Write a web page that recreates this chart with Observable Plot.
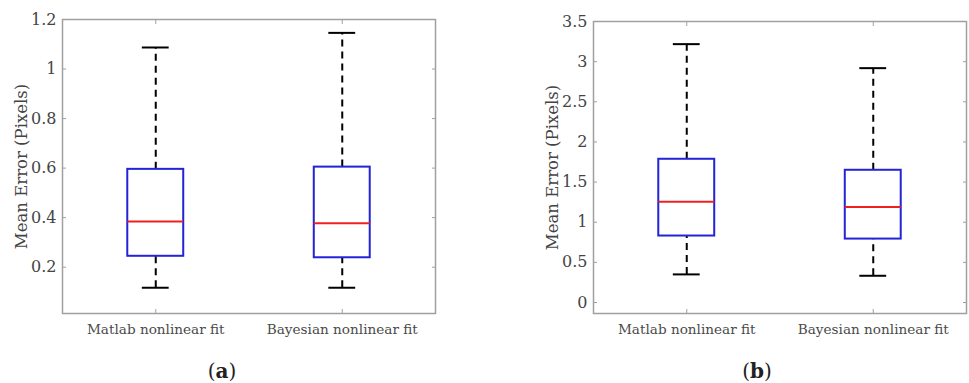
<!DOCTYPE html>
<html>
<head>
<meta charset="utf-8">
<script src="https://cdn.jsdelivr.net/npm/d3@7"></script>
<script src="https://cdn.jsdelivr.net/npm/@observablehq/plot@0.6"></script>
<style>
  html, body { margin: 0; padding: 0; background: #fff; }
  #wrap { position: relative; width: 969px; height: 383px; overflow: hidden; }
  .panel { position: absolute; top: 0; }
  .cap { position: absolute; font-family: "DejaVu Serif", serif; font-size: 20px; color: #222; transform: translate(-50%, -50%); }
  .cap b { font-weight: bold; }
</style>
</head>
<body>
<div id="wrap">
  <div id="pa" class="panel" style="left:0px"></div>
  <div id="pb" class="panel" style="left:490px"></div>
  <div class="cap" style="left:222px; top:371px">(<b>a</b>)</div>
  <div class="cap" style="left:757px; top:371px">(<b>b</b>)</div>
</div>
<script>
// ---- data ----
const categories = ["Matlab nonlinear fit", "Bayesian nonlinear fit"];
const yLabel = "Mean Error (Pixels)";

// panel (a)
const aLower  = [0.117, 0.117];
const aQ1     = [0.244, 0.238];
const aMedian = [0.384, 0.377];
const aQ3     = [0.595, 0.604];
const aUpper  = [1.087, 1.146];
const aTicks  = [0.2, 0.4, 0.6, 0.8, 1.0, 1.2];

// panel (b)
const bLower  = [0.350, 0.333];
const bQ1     = [0.828, 0.790];
const bMedian = [1.256, 1.189];
const bQ3     = [1.784, 1.647];
const bUpper  = [3.218, 2.919];
const bTicks  = [0, 0.5, 1.0, 1.5, 2.0, 2.5, 3.0, 3.5];

const FONT = "DejaVu Serif";
const BOXHALF = 0.15, CAPHALF = 0.072;

function boxChart({lower, q1, median, q3, upper, ticks, yDomain, width, marginLeft, marginRight, marginTop, yLabelDx}) {
  const rows = categories.map((c, i) => ({
    cat: c, pos: i + 1, lower: lower[i], q1: q1[i], median: median[i], q3: q3[i], upper: upper[i]
  }));
  const catPos = rows.map(r => r.pos);
  return Plot.plot({
    width, height: 345,
    marginLeft, marginRight, marginTop, marginBottom: 32,
    style: { fontFamily: FONT, fontSize: "14px", color: "#444", background: "white", overflow: "visible" },
    x: { type: "linear", domain: [0.5, 2.5], axis: null },
    y: { domain: yDomain, axis: null },
    marks: [
      Plot.frame({ stroke: "#a0a0a0", strokeWidth: 1.5 }),
      // inward ticks
      Plot.axisY({ anchor: "left", ticks, tickSize: -4, tickFormat: () => "", stroke: "#a0a0a0", label: null }),
      Plot.axisY({ anchor: "right", ticks, tickSize: -4, tickFormat: () => "", stroke: "#a0a0a0", label: null }),
      Plot.axisX({ anchor: "top", ticks: catPos, tickSize: -4, tickFormat: () => "", stroke: "#a0a0a0", label: null }),
      Plot.axisX({ anchor: "bottom", ticks: catPos, tickSize: -4, tickFormat: () => "", stroke: "#a0a0a0", label: null }),
      // tick labels
      Plot.axisY({ anchor: "left", ticks, tickSize: 0, tickPadding: 6, tickFormat: d3.format("~g"), label: null, fill: "#444", fontSize: 16 }),
      Plot.axisX({ anchor: "bottom", ticks: catPos, tickSize: 0, tickPadding: 11, tickFormat: p => categories[p - 1], label: null, fill: "#4a4a4a", fontSize: 13.6 }),
      // y label
      Plot.text([yLabel], { frameAnchor: "left", text: d => d, rotate: -90, textAnchor: "middle", dx: yLabelDx, fontSize: 16.5, fill: "#444" }),
      // whiskers
      Plot.ruleX(rows, { x: "pos", y1: "q3", y2: "upper", stroke: "black", strokeWidth: 2, strokeDasharray: "7,5" }),
      Plot.ruleX(rows, { x: "pos", y1: "lower", y2: "q1", stroke: "black", strokeWidth: 2, strokeDasharray: "7,5" }),
      Plot.ruleY(rows, { y: "upper", x1: d => d.pos - CAPHALF, x2: d => d.pos + CAPHALF, stroke: "black", strokeWidth: 2 }),
      Plot.ruleY(rows, { y: "lower", x1: d => d.pos - CAPHALF, x2: d => d.pos + CAPHALF, stroke: "black", strokeWidth: 2 }),
      // box
      Plot.rect(rows, { x1: d => d.pos - BOXHALF, x2: d => d.pos + BOXHALF, y1: "q1", y2: "q3", fill: "white", stroke: "#2323d8", strokeWidth: 2 }),
      // median
      Plot.ruleY(rows, { y: "median", x1: d => d.pos - BOXHALF, x2: d => d.pos + BOXHALF, stroke: "#ee2020", strokeWidth: 2 })
    ]
  });
}

document.getElementById("pa").append(boxChart({
  lower: aLower, q1: aQ1, median: aMedian, q3: aQ3, upper: aUpper, ticks: aTicks,
  yDomain: [0.013, 1.2], width: 490, marginLeft: 62, marginRight: 55, marginTop: 19, yLabelDx: -41
}));
document.getElementById("pb").append(boxChart({
  lower: bLower, q1: bQ1, median: bMedian, q3: bQ3, upper: bUpper, ticks: bTicks,
  yDomain: [-0.137, 3.5], width: 479, marginLeft: 103, marginRight: 3, marginTop: 21, yLabelDx: -41
}));
</script>
</body>
</html>
